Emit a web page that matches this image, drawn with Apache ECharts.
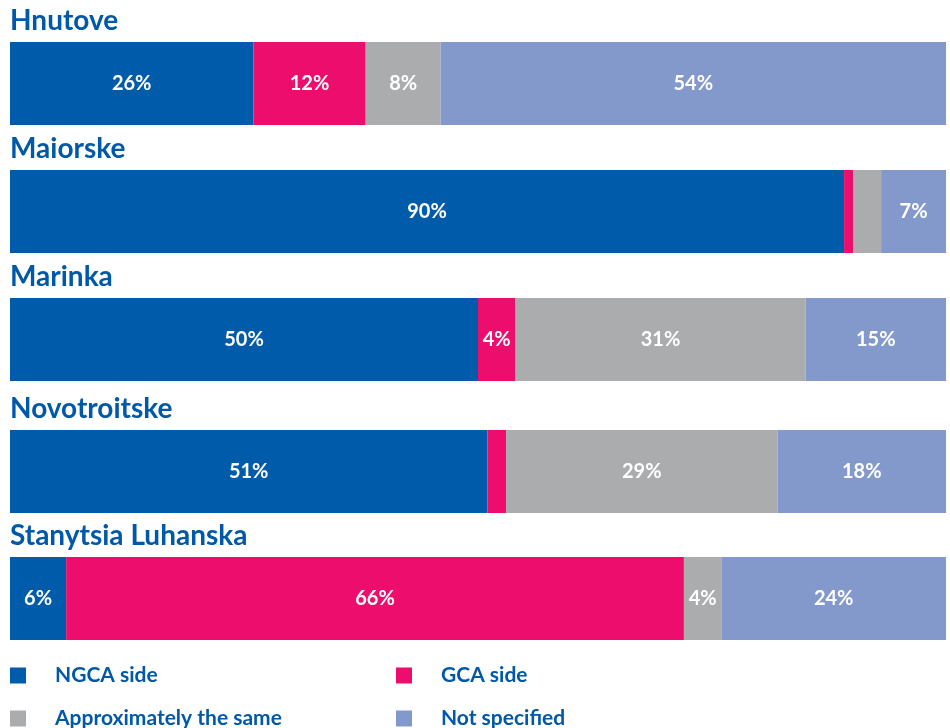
<!DOCTYPE html>
<html>
<head>
<meta charset="utf-8">
<script src="https://cdn.jsdelivr.net/npm/echarts@6/dist/echarts.min.js"></script>
<style>
  html, body { margin: 0; padding: 0; background: #fff; }
  #main { width: 950px; height: 728px; }
</style>
</head>
<body>
<div id="main"></div>
<script>
"use strict";

// locations and shares (%)
const locations = ['Hnutove', 'Maiorske', 'Marinka', 'Novotroitske', 'Stanytsia Luhanska'];
const ngcaSide = [26, 90, 50, 51, 6];
const gcaSide = [12, 1, 4, 2, 66];
const approxSame = [8, 3, 31, 29, 4];
const notSpecified = [54, 7, 15, 18, 24];

const seriesNames = ['NGCA side', 'GCA side', 'Approximately the same', 'Not specified'];
const colors = ['#005BAA', '#EC0D6D', '#ABACAE', '#8399CC'];

const chart = echarts.init(document.getElementById('main'));

// layout of each bar block
const barTops = [42, 170, 298, 430, 557];
const barHeight = 83;
const font = 'Lato, "Open Sans", sans-serif';
const textBlue = '#0058A8';

const grids = [], xAxes = [], yAxes = [], titles = [], series = [];
const cols = [ngcaSide, gcaSide, approxSame, notSpecified];

locations.forEach((loc, i) => {
    const total = cols.reduce((s, c) => s + c[i], 0);
    grids.push({ left: 10, right: 4, top: barTops[i], height: barHeight });
    xAxes.push({ type: 'value', gridIndex: i, min: 0, max: total, show: false });
    yAxes.push({ type: 'category', gridIndex: i, data: [loc], show: false });
    titles.push({
        text: loc,
        left: 10,
        top: barTops[i] - 35,
        padding: 0,
        textStyle: { fontFamily: font, fontSize: 28, fontWeight: 'bold', color: textBlue }
    });
    cols.forEach((col, k) => {
        series.push({
            type: 'bar',
            name: seriesNames[k],
            stack: 'total' + i,
            xAxisIndex: i,
            yAxisIndex: i,
            barWidth: barHeight,
            itemStyle: { color: colors[k] },
            label: {
                show: col[i] >= 4,
                position: 'inside',
                formatter: '{c}%',
                color: '#fff',
                fontFamily: font,
                fontSize: 20,
                fontWeight: 'bold'
            },
            emphasis: { disabled: true },
            data: [col[i]]
        });
    });
});

// legend: two columns, two rows
const legendPos = [[10, 665], [396, 665], [10, 708], [396, 708]];
const legendOrder = [0, 1, 2, 3];
const legends = legendOrder.map((k, j) => ({
    left: legendPos[j][0],
    top: legendPos[j][1],
    padding: 0,
    itemWidth: 16,
    itemHeight: 16,
    icon: 'rect',
    selectedMode: false,
    data: [seriesNames[k]],
    textStyle: {
        fontFamily: font, fontSize: 21, fontWeight: 'bold', color: textBlue,
        padding: [0, 0, 0, 24]
    }
}));

const option = {
    animation: false,
    title: titles,
    grid: grids,
    xAxis: xAxes,
    yAxis: yAxes,
    color: colors,
    legend: legends,
    series: series
};
chart.setOption(option);
</script>
</body>
</html>
